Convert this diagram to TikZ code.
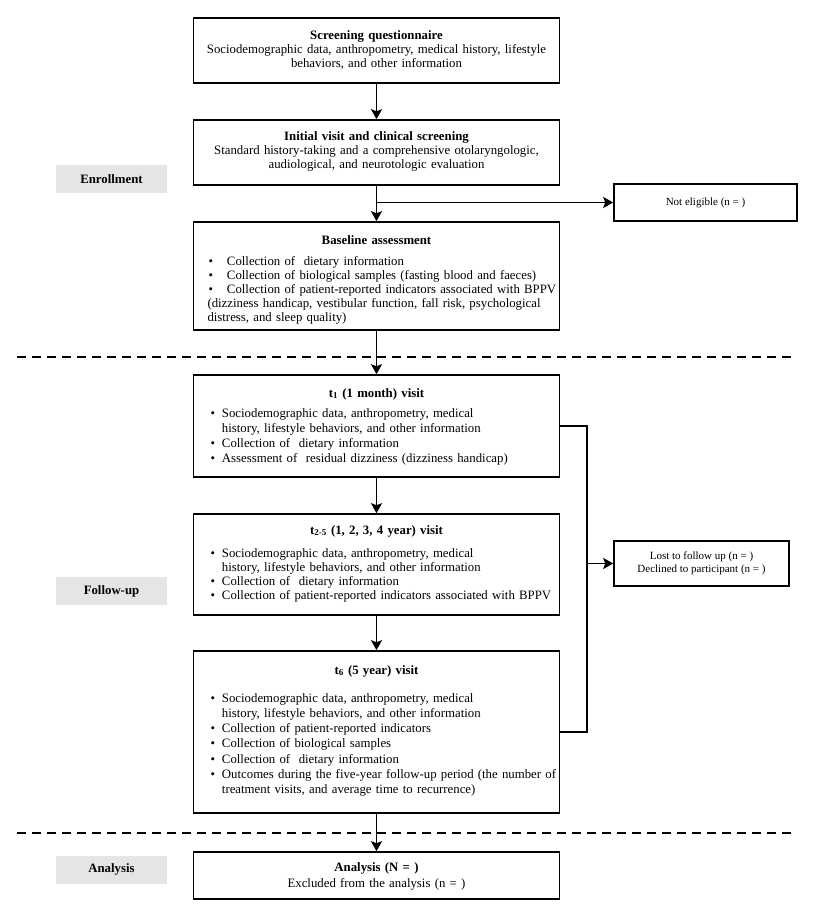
\documentclass[tikz,border=0pt]{standalone}
\usepackage{fontspec}
\setmainfont{Liberation Serif}
\usetikzlibrary{arrows.meta}
\begin{document}
\begin{tikzpicture}[x=1pt,y=-1pt,
 box/.style={draw, line width=1.6pt, minimum width=366pt, inner ysep=0pt, font=\fontsize{12.8}{14}\selectfont},
 cbox/.style={box, text width=360pt, inner xsep=3pt, align=center},
 lbox/.style={box, text width=332pt, inner xsep=17pt},
 bbox/.style={box, text width=338pt, inner xsep=14pt},
 side/.style={draw, line width=1.6pt, font=\fontsize{11}{13.5}\selectfont, align=center},
 lab/.style={fill=black!10, minimum width=111pt, minimum height=28pt, font=\bfseries\fontsize{12.8}{15}\selectfont},
 conn/.style={line width=1.5pt},
 arr/.style={conn, -{Stealth[length=10pt,width=11pt,inset=2pt]}},
 sep/.style={line width=1.5pt, dash pattern=on 9pt off 6pt}]
\useasboundingbox (0,0) rectangle (817,917);

% labels
\node[lab] (enr) at (111.5,179) {Enrollment};
\node[lab] (fol) at (111.5,591) {Follow-up};
\node[lab] (ana) at (111.5,869.5) {Analysis};

% dashed separators
\coordinate (d1a) at (17,357); \coordinate (d1b) at (795,357);
\coordinate (d2a) at (17,833); \coordinate (d2b) at (795,833);
\draw[sep] (d1a) -- (d1b);
\draw[sep] (d2a) -- (d2b);

% main boxes
\node[cbox, text height=22pt, text depth=43pt] (b1) at (376.5,50.5)
 {\textbf{Screening questionnaire}\\Sociodemographic data, anthropometry, medical history, lifestyle\\behaviors, and other information};
\node[cbox, text height=21pt, text depth=44pt] (b2) at (376.5,152.5)
 {\textbf{Initial visit and clinical screening}\\Standard history-taking and a comprehensive otolaryngologic,\\audiological, and neurotologic evaluation};
\node[bbox, text height=22pt, text depth=86pt] (b3) at (376.5,276)
 {{\centering\textbf{Baseline assessment}\par}\vspace{7pt}\noindent
 \begin{tabular}[t]{@{}l@{}}
 \hspace*{1pt}\textbullet\hspace{14pt}Collection of~ dietary information\\
 \hspace*{1pt}\textbullet\hspace{14pt}Collection of biological samples (fasting blood and faeces)\\
 \hspace*{1pt}\textbullet\hspace{14pt}Collection of patient-reported indicators associated with BPPV\\
 (dizziness handicap, vestibular function, fall risk, psychological\\
 distress, and sleep quality)
 \end{tabular}};
\node[lbox, text height=22pt, text depth=80pt, font=\fontsize{12.8}{15.3}\selectfont] (t1) at (376.5,426)
 {{\centering\textbf{t\textsubscript{1} (1 month) visit}\par}\vspace{4.7pt}\noindent
 \begin{tabular}[t]{@{}c@{\hspace{7pt}}l@{}}
 \textbullet & Sociodemographic data, anthropometry, medical\\
  & history, lifestyle behaviors, and other information\\
 \textbullet & Collection of~ dietary information\\
 \textbullet & Assessment of~ residual dizziness (dizziness handicap)
 \end{tabular}};
\node[lbox, text height=20pt, text depth=81pt] (t2) at (376.5,564.5)
 {{\centering\textbf{t\textsubscript{2-5} (1, 2, 3, 4 year) visit}\par}\vspace{9pt}\noindent
 \begin{tabular}[t]{@{}c@{\hspace{7pt}}l@{}}
 \textbullet & Sociodemographic data, anthropometry, medical\\
  & history, lifestyle behaviors, and other information\\
 \textbullet & Collection of~ dietary information\\
 \textbullet & Collection of patient-reported indicators associated with BPPV
 \end{tabular}};
\node[lbox, text height=23pt, text depth=139pt, font=\fontsize{12.8}{15.3}\selectfont] (t6) at (376.5,732)
 {{\centering\textbf{t\textsubscript{6} (5 year) visit}\par}\vspace{12.7pt}\noindent
 \begin{tabular}[t]{@{}c@{\hspace{7pt}}l@{}}
 \textbullet & Sociodemographic data, anthropometry, medical\\
  & history, lifestyle behaviors, and other information\\
 \textbullet & Collection of patient-reported indicators\\
 \textbullet & Collection of biological samples\\
 \textbullet & Collection of~ dietary information\\
 \textbullet & Outcomes during the five-year follow-up period (the number of\\
  & treatment visits, and average time to recurrence)
 \end{tabular}};
\node[cbox, text height=19pt, text depth=28pt, font=\fontsize{12.8}{16}\selectfont] (an) at (376.5,875.5)
 {\textbf{Analysis (N = )}\\Excluded from the analysis (n = )};

% side boxes
\node[side, minimum width=183pt, minimum height=37pt] (ne) at (705.5,202.5) {Not eligible (n = )};
\node[side, minimum width=175pt, minimum height=45pt] (lost) at (701.5,563.5) {Lost to follow up (n = )\\Declined to participant (n = )};

% connectors
\draw[arr] (b1.south) -- (b2.north);
\draw[arr] (b2.south) -- (b3.north);
\draw[arr] (b2.south |- ne.west) -- (ne.west);
\draw[arr] (b3.south) -- (t1.north);
\draw[arr] (t1.south) -- (t2.north);
\draw[arr] (t2.south) -- (t6.north);
\draw[arr] (t6.south) -- (an.north);
\coordinate (rx) at (587,0);
\draw[conn] (t1.east) -- (t1.east -| rx) -- (t6.east -| rx) -- (t6.east);
\draw[arr] (lost.west -| rx) -- (lost.west);
\end{tikzpicture}
\end{document}
